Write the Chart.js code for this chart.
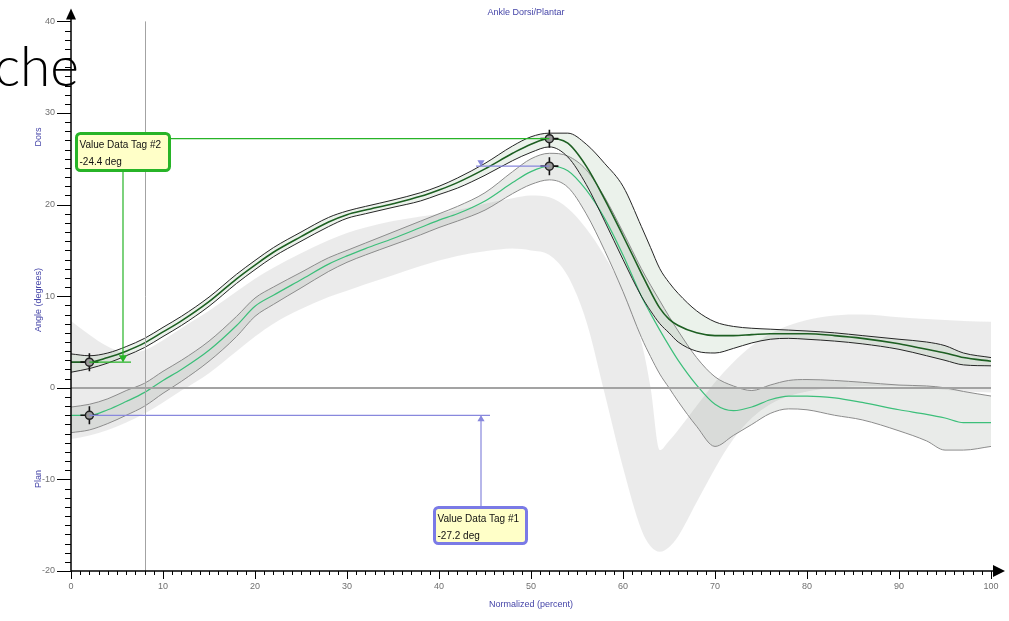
<!DOCTYPE html>
<html>
<head>
<meta charset="utf-8">
<script src="https://cdn.jsdelivr.net/npm/chart.js@4.4.1/dist/chart.umd.min.js"></script>
<style>
  html, body { margin: 0; padding: 0; background: #fff; }
  #plot { display: block; }
</style>
</head>
<body>
<canvas id="plot" width="1009" height="621"></canvas>
<script>
// gait cycle (%) sample positions
const pct = [0, 2, 4, 6, 8, 10, 12, 15, 18, 20, 22, 25, 28, 30, 32, 35, 38, 40, 42, 45, 48, 50, 52, 54, 56, 58, 60, 62, 63, 64, 65, 66, 68, 70, 72, 74, 76, 78, 80, 83, 86, 90, 93, 95, 97, 100];

// trial A (dark green) mean and +/- band
const aHi   = [3.7, 3.5, 3.8, 4.5, 5.4, 6.6, 7.8, 9.9, 12.4, 13.9, 15.3, 17.0, 18.6, 19.3, 19.8, 20.5, 21.3, 22.0, 22.9, 24.5, 26.4, 27.4, 27.8, 27.8, 26.6, 24.5, 22.0, 17.6, 15.3, 13.0, 11.5, 10.3, 8.4, 7.2, 6.7, 6.5, 6.4, 6.3, 6.2, 6.0, 5.7, 5.3, 5.0, 4.6, 3.8, 3.3];
const aMean = [2.8, 2.8, 3.3, 4.0, 4.9, 6.1, 7.3, 9.4, 11.9, 13.4, 14.8, 16.5, 18.1, 18.9, 19.4, 20.1, 20.9, 21.6, 22.4, 23.9, 25.6, 26.6, 27.2, 26.7, 24.2, 20.6, 16.6, 12.5, 10.5, 8.7, 7.5, 6.8, 6.0, 5.7, 5.7, 5.8, 5.9, 5.9, 5.9, 5.7, 5.4, 4.8, 4.2, 3.8, 3.3, 2.9];
const aLo   = [1.7, 2.1, 2.7, 3.5, 4.4, 5.6, 6.8, 8.9, 11.4, 12.9, 14.3, 16.0, 17.6, 18.5, 19.0, 19.7, 20.4, 21.1, 21.8, 23.2, 24.8, 25.7, 26.3, 25.2, 22.2, 18.2, 14.0, 10.0, 8.4, 7.0, 6.0, 5.0, 4.0, 3.8, 4.3, 4.9, 5.3, 5.4, 5.3, 5.1, 4.8, 4.2, 3.5, 3.0, 2.5, 2.4];

// trial B (light green) mean and +/- band
const bHi   = [-2.1, -1.8, -1.2, -0.3, 0.5, 1.8, 3.0, 5.1, 7.8, 9.8, 11.0, 12.6, 14.2, 15.0, 15.8, 17.0, 18.2, 19.0, 19.8, 21.3, 23.6, 25.0, 25.6, 25.3, 23.8, 20.8, 17.0, 13.0, 11.2, 9.5, 7.8, 6.2, 3.3, 1.2, 0.2, -0.3, 0.3, 0.8, 0.9, 0.8, 0.6, 0.3, 0.2, 0.0, -0.4, -0.9];
const bMean = [-3.0, -3.0, -2.4, -1.5, -0.5, 0.8, 2.0, 4.1, 6.8, 8.9, 10.1, 11.8, 13.5, 14.4, 15.2, 16.3, 17.5, 18.3, 19.0, 20.4, 22.4, 23.6, 24.2, 23.7, 21.6, 18.5, 14.5, 10.0, 8.1, 6.3, 4.6, 3.0, 0.3, -1.8, -2.5, -2.1, -1.3, -0.9, -0.9, -1.1, -1.6, -2.4, -2.9, -3.3, -3.8, -3.8];
const bLo   = [-4.9, -4.6, -3.9, -3.0, -2.0, -0.6, 0.7, 2.9, 5.6, 7.8, 9.1, 10.9, 12.7, 13.7, 14.5, 15.6, 16.7, 17.5, 18.2, 19.4, 21.2, 22.2, 22.7, 21.9, 19.0, 15.0, 10.5, 5.5, 3.4, 1.5, 0.0, -1.5, -4.2, -6.4, -5.2, -4.0, -2.8, -2.3, -2.4, -3.0, -3.5, -4.7, -5.8, -6.8, -6.8, -6.4];

// normal range band
const normHi = [7.3, 5.8, 4.5, 3.8, 4.1, 5.2, 6.5, 8.4, 10.5, 11.9, 13.1, 14.7, 16.1, 16.9, 17.5, 18.2, 18.7, 19.0, 19.4, 20.1, 20.7, 21.0, 20.8, 19.6, 17.4, 14.4, 10.6, 5.0, 0.0, -6.8, -5.8, -4.6, -2.0, 0.6, 2.8, 4.6, 5.9, 6.8, 7.4, 7.9, 8.0, 7.7, 7.5, 7.4, 7.3, 7.2];
const normLo = [-5.6, -5.2, -4.6, -3.8, -2.8, -1.6, -0.3, 1.6, 4.0, 5.6, 7.0, 8.6, 9.9, 10.6, 11.3, 12.3, 13.3, 13.9, 14.4, 14.9, 15.2, 15.0, 14.5, 12.2, 7.3, -0.6, -8.7, -15.5, -17.3, -17.9, -17.4, -16.2, -12.5, -8.8, -5.6, -3.3, -1.8, -0.9, -0.4, 0.0, 0.2, 0.2, 0.0, -0.2, -0.4, -0.5];

// data tags sit on these cycle positions
const tagPct = [2, 52];
const xTicks = [0, 10, 20, 30, 40, 50, 60, 70, 80, 90, 100];
const yTicks = [-20, -10, 0, 10, 20, 30, 40];
const cursorPct = 8;

const pts = arr => pct.map((p, i) => ({ x: p, y: arr[i] }));
const at = (arr, p) => arr[pct.indexOf(p)];

function curve(arr, color, width, order, extra) {
  return Object.assign({
    data: pts(arr),
    borderColor: color,
    borderWidth: width,
    pointRadius: 0,
    cubicInterpolationMode: 'monotone',
    fill: false,
    order: order
  }, extra || {});
}

const tagPoints = [];
tagPct.forEach(p => {
  tagPoints.push({ x: p, y: at(aMean, p) });
  tagPoints.push({ x: p, y: at(bMean, p) });
});

const labelFont = '9px "Liberation Sans", Arial, sans-serif';
const blue = '#4545a8';

function arrowHead(ctx, x, y, dir, size, color) {
  // dir: 'up' | 'down'
  ctx.beginPath();
  ctx.fillStyle = color;
  const s = dir === 'up' ? 1 : -1;
  ctx.moveTo(x, y);
  ctx.lineTo(x - size * 0.6, y + s * size);
  ctx.lineTo(x + size * 0.6, y + s * size);
  ctx.closePath();
  ctx.fill();
}

function drawTag(ctx, bx, by, bw, bh, border, l1, l2) {
  ctx.beginPath();
  ctx.roundRect(bx, by, bw, bh, 4);
  ctx.fillStyle = '#ffffc8';
  ctx.fill();
  ctx.lineWidth = 3;
  ctx.strokeStyle = border;
  ctx.stroke();
  ctx.fillStyle = '#111';
  ctx.font = '10px "Liberation Sans", Arial, sans-serif';
  ctx.textAlign = 'left';
  ctx.textBaseline = 'alphabetic';
  ctx.fillText(l1, bx + 3, by + 14);
  ctx.fillText(l2, bx + 3, by + 31);
}

const decor = {
  id: 'decor',
  afterDatasetsDraw(chart) {
    const { ctx, chartArea: a, scales: { x, y } } = chart;
    ctx.save();

    // zero line and cursor line
    ctx.strokeStyle = '#a3a3a3';
    ctx.lineWidth = 2;
    ctx.beginPath();
    const y0 = Math.round(y.getPixelForValue(0));
    ctx.moveTo(a.left, y0);
    ctx.lineTo(a.right, y0);
    ctx.stroke();
    ctx.lineWidth = 1;
    ctx.beginPath();
    const xc = Math.round(x.getPixelForValue(cursorPct)) + 0.5;
    ctx.moveTo(xc, a.top);
    ctx.lineTo(xc, a.bottom);
    ctx.stroke();

    // axes with minor ticks
    ctx.strokeStyle = '#000';
    ctx.lineWidth = 1.5;
    ctx.beginPath();
    ctx.moveTo(a.left, a.bottom);
    ctx.lineTo(a.left, a.top - 4);
    ctx.moveTo(a.left, a.bottom);
    ctx.lineTo(a.right + 4, a.bottom);
    ctx.stroke();
    ctx.lineWidth = 1;
    ctx.beginPath();
    for (let v = y.min; v <= y.max; v++) {
      const py = Math.round(y.getPixelForValue(v)) + 0.5;
      const len = yTicks.includes(v) ? 14 : 6;
      ctx.moveTo(a.left - len, py);
      ctx.lineTo(a.left, py);
    }
    for (let v = x.min; v <= x.max; v++) {
      const px = Math.round(x.getPixelForValue(v)) + 0.5;
      const len = xTicks.includes(v) ? 8 : 4;
      ctx.moveTo(px, a.bottom);
      ctx.lineTo(px, a.bottom + len);
    }
    ctx.stroke();
    // axis arrows
    ctx.fillStyle = '#000';
    ctx.beginPath();
    ctx.moveTo(a.left, a.top - 13);
    ctx.lineTo(a.left - 5, a.top - 2);
    ctx.lineTo(a.left + 5, a.top - 2);
    ctx.closePath();
    ctx.fill();
    ctx.beginPath();
    ctx.moveTo(a.right + 14, a.bottom);
    ctx.lineTo(a.right + 2, a.bottom - 6);
    ctx.lineTo(a.right + 2, a.bottom + 6);
    ctx.closePath();
    ctx.fill();

    // titles
    ctx.fillStyle = blue;
    ctx.font = labelFont;
    ctx.textAlign = 'center';
    ctx.textBaseline = 'middle';
    ctx.fillText('Ankle Dorsi/Plantar', 526, 13);
    [['Dors', 137], ['Angle (degrees)', 300], ['Plan', 479]].forEach(([t, cy]) => {
      ctx.save();
      ctx.translate(39, cy);
      ctx.rotate(-Math.PI / 2);
      ctx.fillText(t, 0, 0);
      ctx.restore();
    });

    // tag connectors
    const pA0 = { x: x.getPixelForValue(tagPct[0]), y: y.getPixelForValue(at(aMean, tagPct[0])) };
    const pB0 = { x: x.getPixelForValue(tagPct[0]), y: y.getPixelForValue(at(bMean, tagPct[0])) };
    const pA1 = { x: x.getPixelForValue(tagPct[1]), y: y.getPixelForValue(at(aMean, tagPct[1])) };
    const pB1 = { x: x.getPixelForValue(tagPct[1]), y: y.getPixelForValue(at(bMean, tagPct[1])) };

    const green = '#27b427';
    ctx.strokeStyle = green;
    ctx.lineWidth = 1.2;
    ctx.beginPath();
    ctx.moveTo(171, pA1.y);
    ctx.lineTo(pA1.x, pA1.y);
    ctx.moveTo(123, 172);
    ctx.lineTo(123, pA0.y - 1);
    ctx.moveTo(pA0.x, pA0.y);
    ctx.lineTo(131, pA0.y);
    ctx.stroke();
    arrowHead(ctx, 123, pA0.y, 'down', 7, green);

    const tagBlue = '#7a7ae6';
    ctx.strokeStyle = '#8888dd';
    ctx.lineWidth = 1.2;
    ctx.beginPath();
    ctx.moveTo(pB0.x, pB0.y);
    ctx.lineTo(490, pB0.y);
    ctx.moveTo(481, 507);
    ctx.lineTo(481, pB0.y + 1);
    ctx.moveTo(pB1.x, pB1.y);
    ctx.lineTo(476, pB1.y);
    ctx.stroke();
    arrowHead(ctx, 481, pB0.y, 'up', 6, '#8888dd');
    arrowHead(ctx, 481, pB1.y, 'down', 6, '#8888dd');

    drawTag(ctx, 76.5, 133.5, 93, 37, green, 'Value Data Tag #2', '-24.4 deg');
    drawTag(ctx, 434.5, 507.5, 92, 36, tagBlue, 'Value Data Tag #1', '-27.2 deg');

    // heading fragment
    ctx.fillStyle = '#000';
    ctx.font = '300 55px Lato, "Noto Sans", sans-serif';
    ctx.textAlign = 'right';
    ctx.textBaseline = 'alphabetic';
    ctx.fillText('che', 79, 86);

    ctx.restore();
  }
};

new Chart(document.getElementById('plot'), {
  type: 'line',
  data: {
    datasets: [
      curve(normHi, 'rgba(0,0,0,0)', 0, 20, { fill: '+1', backgroundColor: 'rgba(120,120,120,0.15)' }),
      curve(normLo, 'rgba(0,0,0,0)', 0, 21),
      curve(bHi, '#8c8c8c', 1, 12, { fill: '+1', backgroundColor: 'rgba(120,130,120,0.16)' }),
      curve(bLo, '#8c8c8c', 1, 13),
      curve(bMean, '#3cbf7a', 1.2, 11),
      curve(aHi, '#262626', 1, 6, { fill: '+1', backgroundColor: 'rgba(120,165,120,0.15)' }),
      curve(aLo, '#262626', 1, 7),
      curve(aMean, '#1d5f22', 1.6, 5),
      {
        data: tagPoints, showLine: false, order: 2,
        pointStyle: 'cross', pointRadius: 9, pointBorderWidth: 1.6, pointBorderColor: '#111'
      },
      {
        data: tagPoints, showLine: false, order: 1,
        pointStyle: 'circle', pointRadius: 4, pointBorderWidth: 1.5,
        pointBorderColor: '#222', pointBackgroundColor: '#9a9a9a'
      }
    ]
  },
  options: {
    responsive: false,
    animation: false,
    events: [],
    layout: { padding: { top: 18, right: 18, left: 0, bottom: 0 } },
    plugins: {
      legend: { display: false },
      tooltip: { enabled: false },
      filler: { drawTime: 'beforeDatasetsDraw' }
    },
    scales: {
      x: {
        type: 'linear', min: 0, max: 100,
        afterBuildTicks: s => { s.ticks = xTicks.map(v => ({ value: v })); },
        afterFit: s => { s.height = 50; },
        grid: { display: false, drawTicks: false },
        border: { display: false },
        ticks: { color: '#707070', font: { family: '"Liberation Sans", Arial, sans-serif', size: 9 }, padding: 10, maxRotation: 0 },
        title: { display: true, text: 'Normalized (percent)', color: blue, font: { family: '"Liberation Sans", Arial, sans-serif', size: 9 }, padding: { top: 0, bottom: 11 } }
      },
      y: {
        type: 'linear', min: -20, max: 40,
        afterBuildTicks: s => { s.ticks = yTicks.map(v => ({ value: v })); },
        afterFit: s => { s.width = 71; },
        grid: { display: false, drawTicks: false },
        border: { display: false },
        ticks: { color: '#707070', font: { family: '"Liberation Sans", Arial, sans-serif', size: 9 }, padding: 16 }
      }
    }
  },
  plugins: [decor]
});
</script>
</body>
</html>
